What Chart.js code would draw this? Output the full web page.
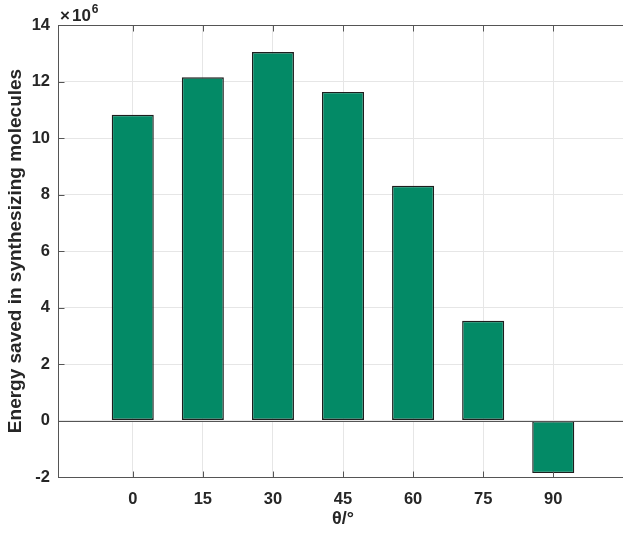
<!DOCTYPE html>
<html>
<head>
<meta charset="utf-8">
<script src="https://cdn.jsdelivr.net/npm/chart.js@4.4.0/dist/chart.umd.min.js"></script>
<style>
  html, body { margin: 0; padding: 0; background: #fff; overflow: hidden; }
  #wrap { width: 623px; height: 534px; overflow: hidden; }
</style>
</head>
<body>
<div id="wrap"><canvas id="chart" width="640" height="534"></canvas></div>
<script>
// data (values in units of 10^6)
const angles = [0, 15, 30, 45, 60, 75, 90];
const energy = [10.82, 12.15, 13.04, 11.63, 8.31, 3.53, -1.86];
const xTicks = [0, 15, 30, 45, 60, 75, 90];
const yTicks = [-2, 0, 2, 4, 6, 8, 10, 12, 14];
const xRange = [-16, 106];
const yRange = [-2, 14];

const FONT = "'Liberation Sans', Arial, Helvetica, sans-serif";
const AXIS_COLOR = '#555555';
const GRID_COLOR = '#e6e6e6';
const TEXT_COLOR = '#262626';

// MATLAB style: inward ticks, box line on top, baseline at zero, x10^6 exponent
const matlabAxes = {
  id: 'matlabAxes',
  afterDraw(chart) {
    const ctx = chart.ctx;
    const area = chart.chartArea;
    const xs = chart.scales.x;
    const ys = chart.scales.y;
    const tick = 6;
    ctx.save();
    ctx.strokeStyle = AXIS_COLOR;
    ctx.lineWidth = 1;

    // baseline at y = 0
    const y0 = Math.round(ys.getPixelForValue(0)) + 0.5;
    ctx.beginPath();
    ctx.moveTo(area.left, y0);
    ctx.lineTo(area.right, y0);
    ctx.stroke();

    // box lines
    const l = Math.round(area.left) + 0.5;
    const t = Math.round(area.top) + 0.5;
    const b = Math.round(area.bottom) + 0.5;
    ctx.beginPath();
    ctx.moveTo(l, t); ctx.lineTo(l, b);
    ctx.moveTo(area.left, b); ctx.lineTo(area.right, b);
    ctx.moveTo(area.left, t); ctx.lineTo(area.right, t);
    ctx.stroke();

    // inward ticks
    ctx.beginPath();
    xTicks.forEach(v => {
      const px = Math.round(xs.getPixelForValue(v)) + 0.5;
      ctx.moveTo(px, b); ctx.lineTo(px, b - tick);
      ctx.moveTo(px, t); ctx.lineTo(px, t + tick);
    });
    yTicks.forEach(v => {
      const py = Math.round(ys.getPixelForValue(v)) + 0.5;
      ctx.moveTo(l, py); ctx.lineTo(l + tick, py);
    });
    ctx.stroke();

    // exponent label
    ctx.fillStyle = TEXT_COLOR;
    ctx.textBaseline = 'alphabetic';
    ctx.textAlign = 'left';
    ctx.font = 'bold 17px ' + FONT;
    ctx.fillText('\u00d7', area.left + 2, area.top - 4);
    const wx = ctx.measureText('\u00d7').width;
    ctx.fillText('10', area.left + 4 + wx, area.top - 4);
    const w10 = ctx.measureText('10').width;
    ctx.font = 'bold 12px ' + FONT;
    ctx.fillText('6', area.left + 5 + wx + w10, area.top - 12);
    ctx.restore();
  }
};

const ctx = document.getElementById('chart').getContext('2d');
new Chart(ctx, {
  type: 'bar',
  data: {
    datasets: [{
      data: angles.map((a, i) => ({ x: a, y: energy[i] })),
      backgroundColor: '#038a66',
      borderColor: '#1e1e1e',
      borderWidth: 1.4,
      borderSkipped: false,
      inflateAmount: 0,
      barPercentage: 0.6,
      categoryPercentage: 1
    }]
  },
  options: {
    responsive: false,
    animation: false,
    devicePixelRatio: 1,
    layout: { padding: { top: 25, right: 12, left: 0, bottom: 0 } },
    plugins: { legend: { display: false }, tooltip: { enabled: false } },
    scales: {
      x: {
        type: 'linear',
        offset: false,
        min: xRange[0],
        max: xRange[1],
        afterBuildTicks: s => { s.ticks = xTicks.map(v => ({ value: v })); },
        afterFit: s => { s.height = 57; },
        grid: { color: GRID_COLOR, drawTicks: false, offset: false },
        border: { display: false },
        ticks: {
          padding: 13,
          color: TEXT_COLOR,
          font: { family: FONT, size: 16.5, weight: 'bold' },
          maxRotation: 0
        },
        title: {
          display: true,
          text: '\u03b8/\u00b0',
          color: TEXT_COLOR,
          font: { family: FONT, size: 18, weight: 'bold' },
          padding: { top: 0, bottom: 4 }
        }
      },
      y: {
        min: yRange[0],
        max: yRange[1],
        afterBuildTicks: s => { s.ticks = yTicks.map(v => ({ value: v })); },
        afterFit: s => { s.width = 58; },
        grid: { color: GRID_COLOR, drawTicks: false },
        border: { display: false },
        ticks: {
          padding: 8,
          color: TEXT_COLOR,
          font: { family: FONT, size: 16.5, weight: 'bold' }
        },
        title: {
          display: true,
          text: 'Energy saved in synthesizing molecules',
          color: TEXT_COLOR,
          font: { family: FONT, size: 19, weight: 'bold' },
          padding: { top: 4, bottom: 0 }
        }
      }
    }
  },
  plugins: [matlabAxes]
});
</script>
</body>
</html>
